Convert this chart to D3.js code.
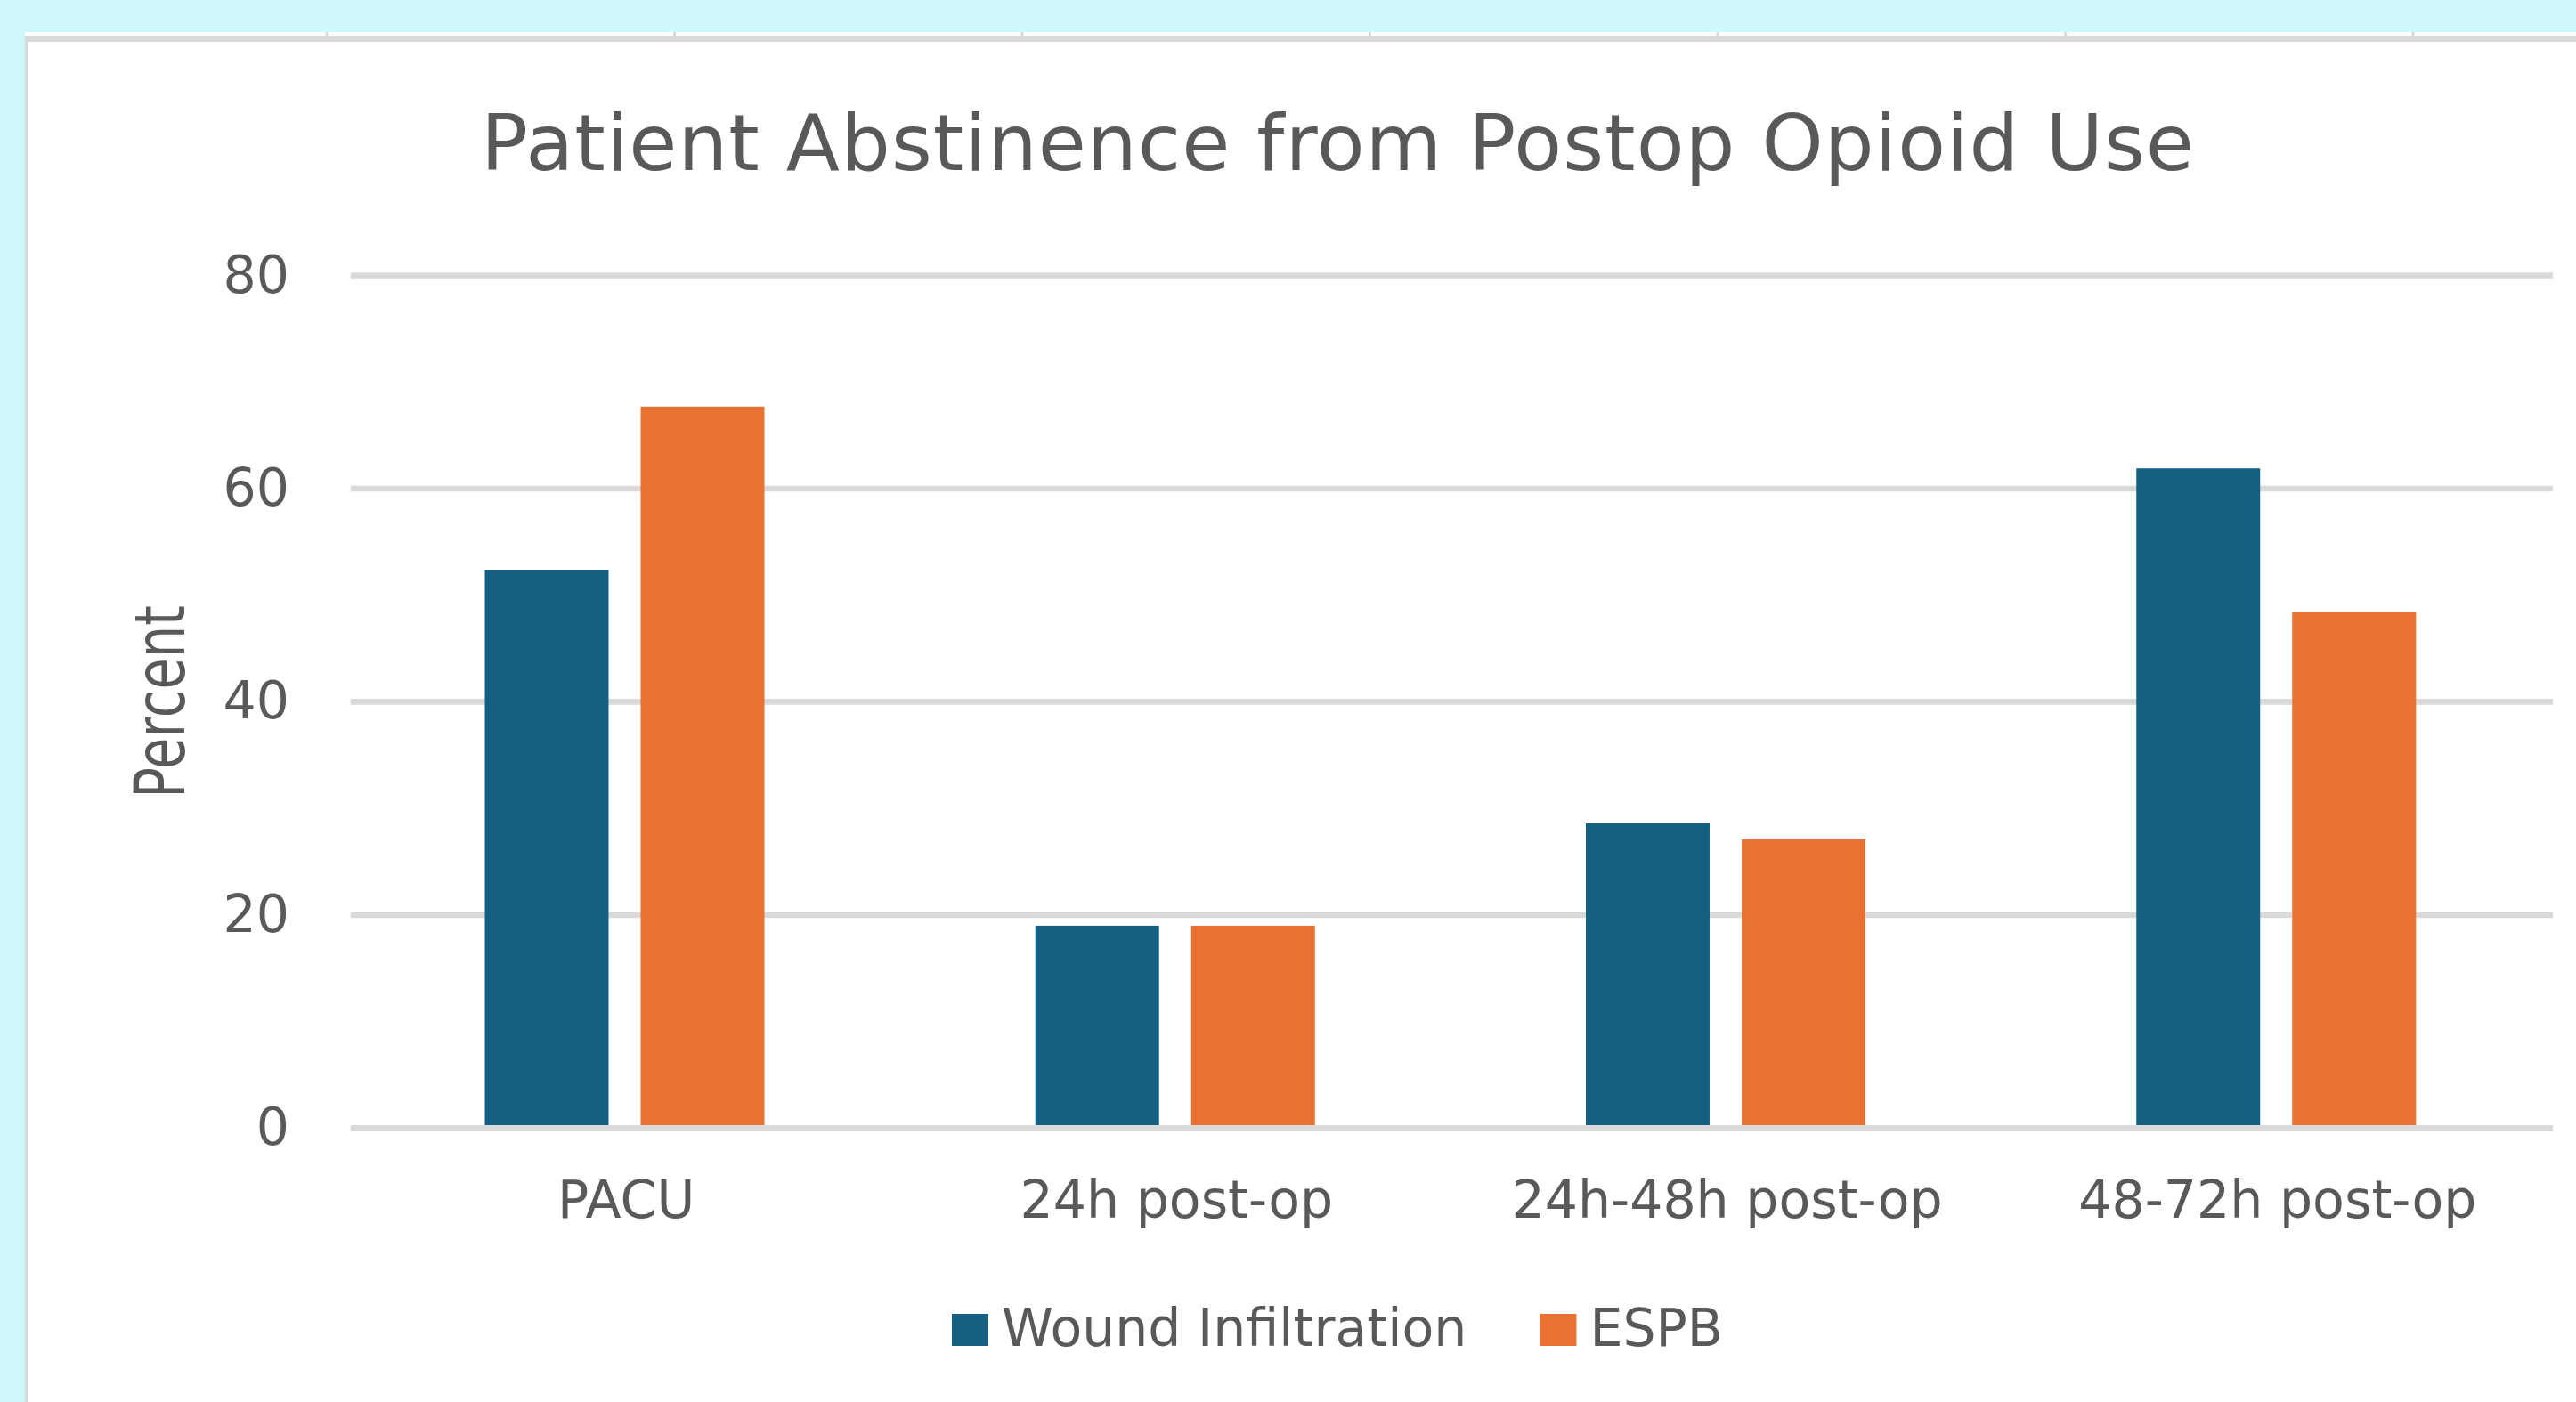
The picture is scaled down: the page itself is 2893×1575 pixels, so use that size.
<!DOCTYPE html>
<html>
<head>
<meta charset="utf-8">
<title>Patient Abstinence from Postop Opioid Use</title>
<script src="https://cdn.jsdelivr.net/npm/d3@7"></script>
<style>
  html, body { margin: 0; padding: 0; background: #CFF8FE; overflow: hidden; }
  svg { display: block; }
  text { font-family: "DejaVu Sans", sans-serif; fill: #595959; }
</style>
</head>
<body>
<svg id="chart" width="2893" height="1575"></svg>
<script>
// Chart data
const categories = ["PACU", "24h post-op", "24h-48h post-op", "48-72h post-op"];
const seriesNames = ["Wound Infiltration", "ESPB"];
const woundInfiltration = [52.4, 19.0, 28.6, 61.9];
const espb = [67.7, 19.0, 27.1, 48.4];
const yTicks = [0, 20, 40, 60, 80];
const seriesColors = ["#156082", "#E97132"];

const W = 2893, H = 1575;
const svg = d3.select("#chart");

// Sheet background, column-header strip and the chart frame
svg.append("rect").attr("x", 0).attr("y", 0).attr("width", W).attr("height", H).attr("fill", "#CFF8FE");
svg.append("rect").attr("x", 28).attr("y", 36).attr("width", W - 28).attr("height", 4).attr("fill", "#FFFFFF");
const headerTicks = d3.range(7).map(k => 367 + 390.5 * k);
svg.selectAll("rect.hdr").data(headerTicks).join("rect")
  .attr("class", "hdr")
  .attr("x", d => d - 1.5).attr("y", 36).attr("width", 3).attr("height", 4)
  .attr("fill", "#D9D9D9");
svg.append("rect").attr("x", 28).attr("y", 40).attr("width", W - 28).attr("height", H - 40).attr("fill", "#D9D9D9");
svg.append("rect").attr("x", 32).attr("y", 47).attr("width", W - 32).attr("height", H - 47).attr("fill", "#FFFFFF");

// Plot area
const plot = { left: 394, right: 2867, top: 309.5, bottom: 1267.4 };

const x0 = d3.scaleBand().domain(categories).range([plot.left, plot.right]).padding(0);
const x1 = d3.scaleBand().domain(seriesNames).range([150.5, 464.5]).paddingInner(0.206).paddingOuter(0);
const y = d3.scaleLinear().domain([0, 80]).range([plot.bottom, plot.top]);
const color = d3.scaleOrdinal().domain(seriesNames).range(seriesColors);

const seriesValues = [woundInfiltration, espb];
const rows = categories.map((c, i) => ({
  category: c,
  values: seriesNames.map((s, j) => ({ series: s, value: seriesValues[j][i] }))
}));

// Horizontal gridlines (the zero line is drawn over the bars)
const gridG = svg.append("g");
const yAxis = d3.axisLeft(y).tickValues(yTicks).tickSize(0).tickFormat(d3.format("d"));

gridG.selectAll("line").data(yTicks.filter(t => t !== 0)).join("line")
  .attr("x1", plot.left).attr("x2", plot.right)
  .attr("y1", d => y(d)).attr("y2", d => y(d))
  .attr("stroke", "#D9D9D9").attr("stroke-width", 6.7);

// Bars
const groups = svg.append("g").selectAll("g").data(rows).join("g")
  .attr("transform", d => `translate(${x0(d.category)},0)`);
groups.selectAll("rect").data(d => d.values).join("rect")
  .attr("x", d => x1(d.series))
  .attr("width", x1.bandwidth())
  .attr("y", d => y(d.value))
  .attr("height", d => y(0) - y(d.value))
  .attr("fill", d => color(d.series));

svg.append("line")
  .attr("x1", plot.left).attr("x2", plot.right)
  .attr("y1", y(0)).attr("y2", y(0))
  .attr("stroke", "#D9D9D9").attr("stroke-width", 6.7);

// Value axis labels
const yAxisG = svg.append("g").attr("transform", "translate(325,0)").call(yAxis);
yAxisG.select(".domain").remove();
yAxisG.selectAll("text")
  .attr("x", 0).attr("dy", null).attr("y", 18.5)
  .attr("text-anchor", "end")
  .style("font-family", "'DejaVu Sans', sans-serif")
  .style("font-size", "58.5px")
  .style("fill", "#595959");

// Category axis labels
const xAxis = d3.axisBottom(x0).tickSize(0).tickPadding(0);
const xAxisG = svg.append("g").attr("transform", "translate(0,1368)").call(xAxis);
xAxisG.select(".domain").remove();
xAxisG.selectAll("text")
  .attr("y", 0).attr("dy", null)
  .style("font-family", "'DejaVu Sans', sans-serif")
  .style("font-size", "58.5px")
  .style("fill", "#595959");

// Title
svg.append("text")
  .attr("x", 1502).attr("y", 190.5)
  .attr("text-anchor", "middle")
  .attr("textLength", 1924).attr("lengthAdjust", "spacing")
  .style("font-size", "88px")
  .text("Patient Abstinence from Postop Opioid Use");

// Value axis title
svg.append("text")
  .attr("transform", `translate(207,${(plot.top + plot.bottom) / 2}) rotate(-90) scale(1,1.35)`)
  .attr("text-anchor", "middle")
  .style("font-size", "57.6px")
  .text("Percent");

// Legend
const legend = svg.append("g");
let lx = 1069;
seriesNames.forEach((s, i) => {
  legend.append("rect")
    .attr("x", lx).attr("y", 1476).attr("width", 41).attr("height", 36)
    .attr("fill", color(s));
  const t = legend.append("text")
    .attr("x", lx + 41 + 15).attr("y", 1512)
    .style("font-size", "58.5px")
    .text(s);
  lx += 41 + 15 + t.node().getComputedTextLength() + 82;
});
</script>
</body>
</html>
